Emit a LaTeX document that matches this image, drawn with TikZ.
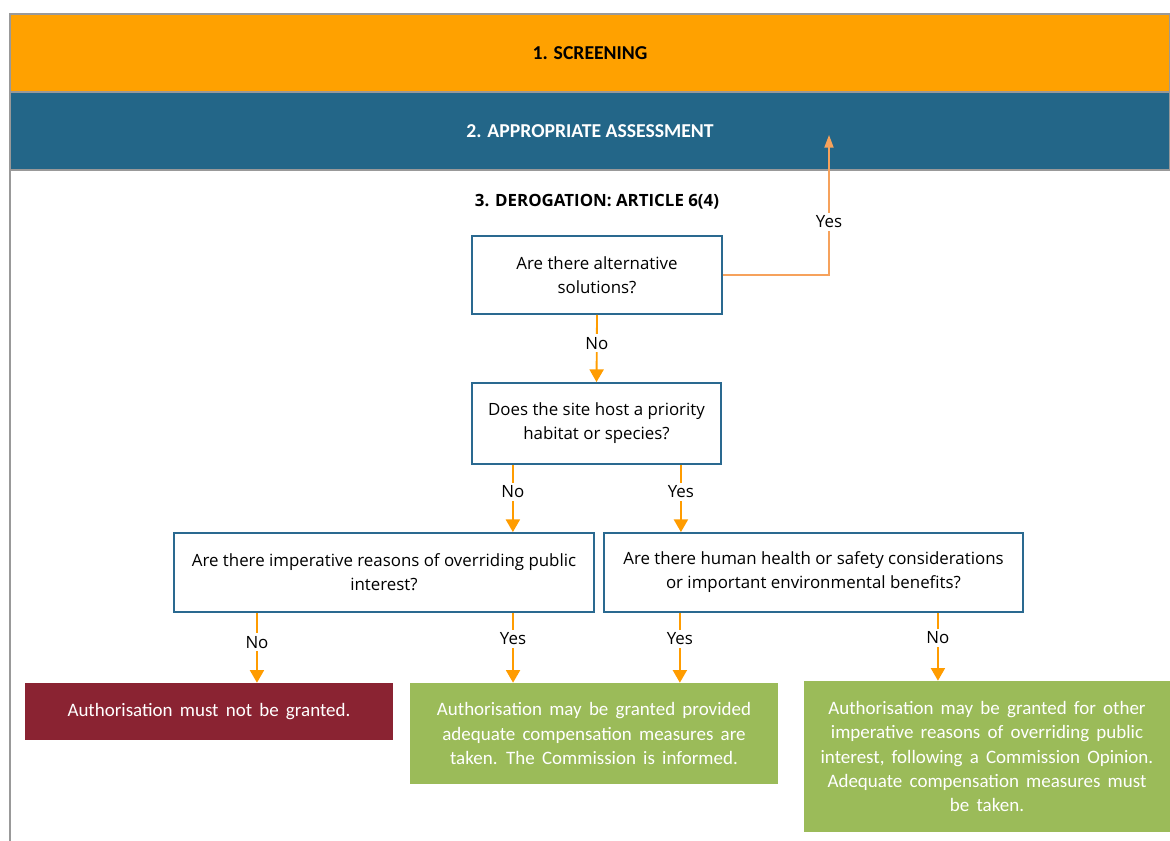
\documentclass[tikz,border=0pt]{standalone}
\usepackage{fontspec}
\setmainfont{Carlito}
\newfontfamily\qfont{Open Sans}
\usetikzlibrary{arrows.meta,positioning}
\definecolor{bandorange}{HTML}{FFA100}
\definecolor{bandblue}{HTML}{236688}
\definecolor{boxblue}{HTML}{2A6990}
\definecolor{flowarrow}{HTML}{FF9C00}
\definecolor{backarrow}{HTML}{F6A25C}
\definecolor{refusered}{HTML}{8A2332}
\definecolor{grantgreen}{HTML}{9BBB59}
\newcommand\outcomefont{\fontsize{13.5}{17.3}\selectfont\spaceskip=0.38em plus 0.1em\relax}

\begin{document}
\begin{tikzpicture}[x=0.025cm, y=-0.025cm,
    band/.style={draw=gray!80, line width=1.5pt, minimum width=29cm, minimum height=1.95cm, inner sep=0pt, font=\bfseries\fontsize{14}{16}\selectfont},
    question/.style={draw=boxblue, line width=1.3pt, fill=white, align=center, inner sep=0pt, font=\qfont\fontsize{12}{17}\selectfont},
    outcome/.style={align=center, inner sep=0pt, text=white, font=\outcomefont},
    arr/.style={draw=flowarrow, line width=1.3pt, -{Triangle[width=10pt,length=9pt]}},
    backarr/.style={draw=backarrow, line width=1pt, -{Triangle[width=6.5pt,length=9pt]}},
    answer/.style={fill=white, inner sep=2pt, font=\qfont\fontsize{12}{14}\selectfont}]
  \useasboundingbox (0,0) rectangle (1170,841);

  % the two stage bands
  \node[band, fill=bandorange] (screening) at (590,53) {1. SCREENING};
  \node[band, fill=bandblue, text=white] (assessment) at (590,131) {2. APPROPRIATE ASSESSMENT};
  \draw[gray!80, line width=1pt] (10,841) -- (10,170);

  \node[font=\qfont\bfseries\fontsize{12}{14}\selectfont] (derogation) at (597,202) {3. DEROGATION: ARTICLE 6(4)};

  % questions
  \node[question, minimum width=6.25cm, minimum height=1.95cm] (alt) at (597,275) {Are there alternative\\solutions?};
  \node[question, minimum width=6.225cm, minimum height=2.025cm] (site) at (596.5,423.5) {Does the site host a priority\\habitat or species?};
  \node[question, minimum width=10.5cm, minimum height=1.975cm] (iropi) at (384,572.5) {Are there imperative reasons of overriding public\\interest?};
  \node[question, minimum width=10.475cm, minimum height=1.975cm] (health) at (813.5,572.5) {Are there human health or safety considerations\\or important environmental benefits?};

  % outcomes
  \node[outcome, fill=refusered, minimum width=9.2cm, minimum height=1.425cm] (refuse) at (209,711.5) {Authorisation must not be granted.};
  \node[outcome, fill=grantgreen, minimum width=9.2cm, minimum height=2.525cm] (grant) at (594,733.5) {Authorisation may be granted provided\\adequate compensation measures are\\taken. The Commission is informed.};
  \node[outcome, fill=grantgreen, minimum width=9.15cm, minimum height=3.775cm] (opinion) at (987,756.5) {Authorisation may be granted for other\\imperative reasons of overriding public\\interest, following a Commission Opinion.\\Adequate compensation measures must\\be taken.};

  % connectors
  \coordinate (backto) at (829,135);
  \draw[backarr] (alt.east) -| (backto) node[pos=0.69, answer] {Yes};
  \draw[arr] (alt.south) -- (site.north) node[pos=0.42, answer] {No};

  \coordinate (siteNo) at ([xshift=-2.09cm]site.south);
  \coordinate (siteYes) at ([xshift=2.11cm]site.south);
  \draw[arr] (siteNo) -- (siteNo |- iropi.north) node[pos=0.4, answer] {No};
  \draw[arr] (siteYes) -- (siteYes |- health.north) node[pos=0.4, answer] {Yes};

  \coordinate (iropiNo) at ([xshift=-3.175cm]iropi.south);
  \coordinate (iropiYes) at ([xshift=3.225cm]iropi.south);
  \draw[arr] (iropiNo) -- (iropiNo |- refuse.north) node[pos=0.42, answer] {No};
  \draw[arr] (iropiYes) -- (iropiYes |- grant.north) node[pos=0.37, answer] {Yes};

  \coordinate (healthYes) at ([xshift=-3.34cm]health.south);
  \coordinate (healthNo) at ([xshift=3.11cm]health.south);
  \draw[arr] (healthYes) -- (healthYes |- grant.north) node[pos=0.37, answer] {Yes};
  \draw[arr] (healthNo) -- (healthNo |- opinion.north) node[pos=0.37, answer] {No};
\end{tikzpicture}
\end{document}
